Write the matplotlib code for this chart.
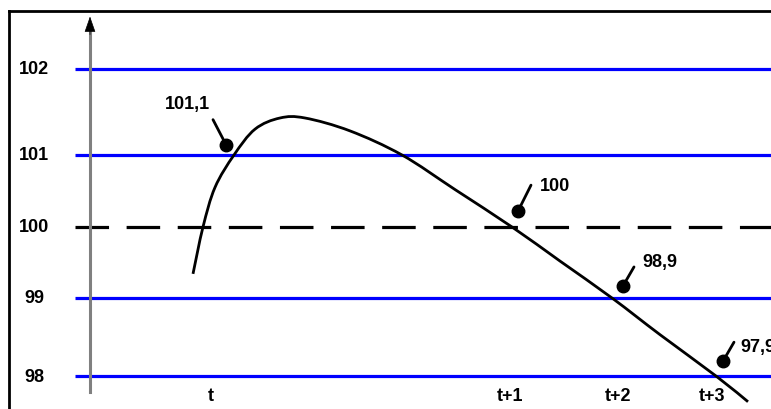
import matplotlib
matplotlib.use('Agg')
import matplotlib.pyplot as plt
import numpy as np
from matplotlib.path import Path
from matplotlib.patches import PathPatch

# price levels drawn as horizontal lines
levels = [98, 99, 101, 102]
par_level = 100
level_labels = ['98', '99', '100', '101', '102']
label_values = [98, 99, 100, 101, 102]

# time axis (horizontal units)
time_ticks = [2.11, 5.10, 6.18, 7.12]
time_labels = ['t', 't+1', 't+2', 't+3']

# price curve
curve_x = [1.93, 2.03, 2.15, 2.34, 2.55, 2.80, 3.05, 3.50,
           4.02, 4.55, 5.12, 5.60, 6.12, 6.60, 7.16, 7.48]
curve_y = [99.34, 100.0, 100.55, 101.0, 101.30, 101.43, 101.43, 101.28,
           101.0, 100.52, 100.0, 99.52, 99.0, 98.53, 98.0, 97.67]

# marked prices
mark_x = [2.26, 5.18, 6.23, 7.23]
mark_y = [101.12, 100.22, 99.17, 98.19]
mark_labels = ['101,1', '100', '98,9', '97,9']

# the picture spaces the levels unevenly
scale_vals = [97, 98, 99, 100, 101, 102, 103]
scale_pos = [-78, 0, 78, 149, 221, 307, 393]


def fwd(v):
    return np.interp(v, scale_vals, scale_pos)


def inv(p):
    return np.interp(p, scale_pos, scale_vals)


def smooth_path(xs, ys):
    # Catmull-Rom through the points, drawn as cubic bezier pieces
    pts = np.column_stack([xs, ys])
    verts = [pts[0]]
    codes = [Path.MOVETO]
    n = len(pts)
    for i in range(n - 1):
        p0 = pts[max(i - 1, 0)]
        p1 = pts[i]
        p2 = pts[i + 1]
        p3 = pts[min(i + 2, n - 1)]
        verts += [p1 + (p2 - p0) / 6, p2 - (p3 - p1) / 6, p2]
        codes += [Path.CURVE4] * 3
    return Path(verts, codes)


plt.rcParams['font.family'] = ['Liberation Sans', 'DejaVu Sans']

fig = plt.figure(figsize=(7.71, 4.10), dpi=100)
ax = fig.add_axes([9 / 771, 0, 762 / 771, 398 / 410])
ax.set_yscale('function', functions=(fwd, inv))
ax.set_xlim(0.09, 7.71)
ax.set_ylim(97.577, 102.674)
ax.set_xticks([])
ax.set_yticks([])
ax.minorticks_off()
for s in ['right', 'bottom']:
    ax.spines[s].set_visible(False)
for s in ['left', 'top']:
    ax.spines[s].set_linewidth(2)
    ax.spines[s].set_color('black')

# level lines
ax.hlines(levels, 0.75, 7.71, colors='#0000ff', lw=2.3, zorder=2)
ax.hlines([par_level], 0.75, 7.71, colors='black', lw=2.3,
          linestyles=(0, (10.5, 5.5)), zorder=2)

# vertical gray axis with black arrow head
ax.plot([0.90, 0.90], [97.795, 102.45], color='#808080', lw=2.2, zorder=3)
ax.annotate('', xy=(0.90, 102.61), xytext=(0.90, 102.40),
            arrowprops=dict(arrowstyle='-|>,head_width=0.35,head_length=1.0',
                            color='black', lw=0.5, shrinkA=0, shrinkB=0), zorder=3)

# level labels
for v, lab in zip(label_values, level_labels):
    ax.text(0.34, v, lab, ha='center', va='center', fontsize=13, fontweight='bold')

# time labels
for x, lab in zip(time_ticks, time_labels):
    ax.text(x, 97.756, lab, ha='center', va='center', fontsize=13, fontweight='bold')

# price curve, smoothed in the scaled space so the uneven scale adds no kinks
ax.add_patch(PathPatch(smooth_path(curve_x, fwd(np.array(curve_y))), fill=False,
                       edgecolor='black', lw=2, zorder=4,
                       transform=ax.transLimits + ax.transAxes))

# pin markers with labels (the last one runs off the right edge, as in the source)
tails = [(-13, 25), (13, 26), (11, 19), (11, 19)]
text_off = [(-39, 41), (22, 26), (19, 24), (17, 15)]
aligns = ['center', 'left', 'left', 'left']
for x, y, lab, t, o, ha in zip(mark_x, mark_y, mark_labels, tails, text_off, aligns):
    ax.plot([x], [y], 'o', color='black', ms=9, zorder=5)
    ax.annotate('', xy=(x, y), xytext=t, textcoords='offset pixels',
                arrowprops=dict(arrowstyle='-', color='black', lw=2,
                                shrinkA=0, shrinkB=0), zorder=5)
    ax.annotate(lab, xy=(x, y), xytext=o, textcoords='offset pixels',
                ha=ha, va='center', fontsize=13, fontweight='bold',
                annotation_clip=False)

fig.savefig('out.png', dpi=100)
